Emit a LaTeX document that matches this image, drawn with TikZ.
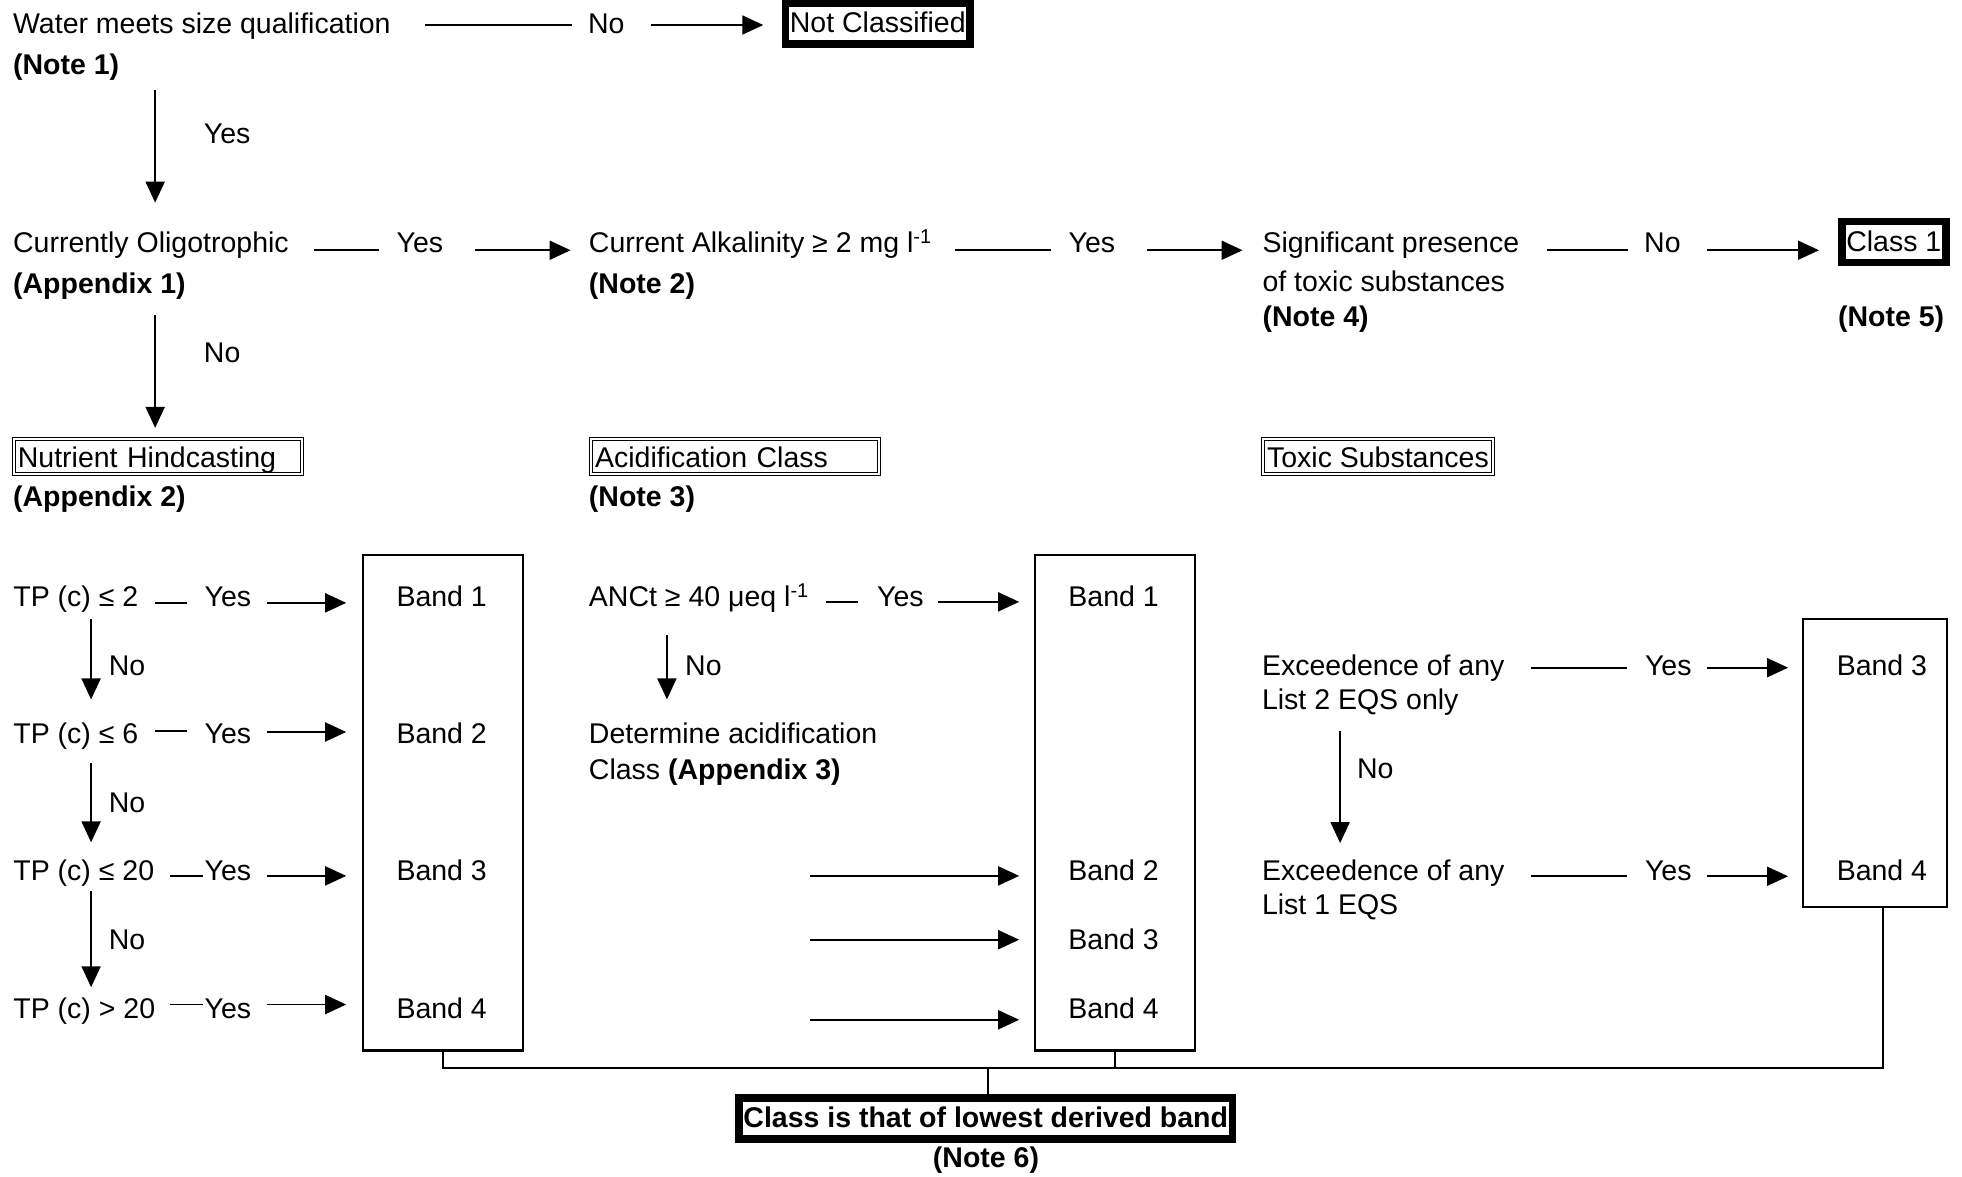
\documentclass[tikz,border=0pt]{standalone}
\usepackage{fontspec}
\setmainfont{Liberation Sans}
\usetikzlibrary{arrows.meta}
\begin{document}
\begin{tikzpicture}[x=1.2513pt, y=-1.2513pt,
  every node/.style={font=\fontsize{28.5}{34}\selectfont, inner sep=0pt, outer sep=0pt},
  txt/.style={anchor=base west},
  bold/.style={anchor=base west, font=\fontsize{28.5}{34}\selectfont\bfseries},
  conn/.style={line width=1.9pt},
  arr/.style={line width=1.9pt, -{Triangle[length=21pt, width=19pt]}},
  thickbox/.style={draw, line width=7.5pt, inner xsep=4.5pt, inner ysep=7pt, text height=22.8pt, text depth=4.3pt},
  dbox/.style={draw, double, double distance=1.5pt, line width=1pt, inner xsep=4pt, inner ysep=2pt, text height=26.2pt, text depth=5.1pt, anchor=west},
  bandbox/.style={draw, line width=2.2pt, minimum width=160pt, minimum height=495.5pt},
  bandlbl/.style={anchor=base},
]
\useasboundingbox (0,0) rectangle (1568,940);

% ---------- row 1
\node[txt] (water) at (10.5,26.5) {Water meets size qualification};
\node[bold] (note1) at (10.5,59.5) {(Note 1)};
\node[txt] (no1) at (470,26.5) {No};
\node[thickbox] (notcl) at (701.5,18.8) {Not Classified};
\coordinate (w1) at (340,20); \coordinate (w2) at (457,20);
\coordinate (w3) at (520,20); \coordinate (w4) at (610,20);
\draw[conn] (w1) -- (w2);
\draw[arr] (w3) -- (w4);

\coordinate (v1a) at (124,72); \coordinate (v1b) at (124,162);
\draw[arr] (v1a) -- (v1b);
\node[txt] (yes1) at (163,114.6) {Yes};

% ---------- row 2
\node[txt] (olig) at (10.5,202) {Currently Oligotrophic};
\node[bold] (app1) at (10.5,234.5) {(Appendix 1)};
\coordinate (o1) at (251,200); \coordinate (o2) at (303,200);
\coordinate (o3) at (380,200); \coordinate (o4) at (456,200);
\draw[conn] (o1) -- (o2);
\node[txt] (yes2) at (317,202) {Yes};
\draw[arr] (o3) -- (o4);

\node[txt] (alk) at (470.7,202) {Current Alkalinity ≥ 2 mg l\textsuperscript{-1}};
\node[bold] (note2) at (470.7,234.5) {(Note 2)};
\coordinate (a1) at (763,200); \coordinate (a2) at (840,200);
\coordinate (a3) at (917,200); \coordinate (a4) at (993,200);
\draw[conn] (a1) -- (a2);
\node[txt] (yes3) at (854,202) {Yes};
\draw[arr] (a3) -- (a4);

\node[txt] (sig1) at (1009,202) {Significant presence};
\node[txt] (sig2) at (1009,233) {of toxic substances};
\node[bold] (note4) at (1009,261) {(Note 4)};
\coordinate (s1) at (1236,200); \coordinate (s2) at (1301,200);
\coordinate (s3) at (1364,200); \coordinate (s4) at (1453.7,200);
\draw[conn] (s1) -- (s2);
\node[txt] (no2) at (1314,202) {No};
\draw[arr] (s3) -- (s4);
\node[thickbox] (class1) at (1513.5,193.5) {Class 1};
\node[bold] (note5) at (1469,261) {(Note 5)};

\coordinate (v2a) at (124,252); \coordinate (v2b) at (124,342);
\draw[arr] (v2a) -- (v2b);
\node[txt] (no3) at (163,290) {No};

% ---------- row 3 headers
\node[dbox, text width=280pt, align=left] (nutr) at (11.1,364.8) {Nutrient Hindcasting};
\node[bold] (app2) at (10.5,404.6) {(Appendix 2)};
\node[dbox, text width=280pt, align=left] (acid) at (472.4,364.8) {Acidification Class};
\node[bold] (note3) at (470.7,404.6) {(Note 3)};
\node[dbox] (toxic) at (1009.4,364.8) {Toxic Substances};

% ---------- band boxes
\node[bandbox] (bb1) at (354,641.6) {};
\node[bandbox] (bb2) at (891,641.6) {};
\node[bandbox, minimum width=144.5pt, minimum height=288pt] (bb3) at (1498.5,609.9) {};

\node[bandlbl] (b11) at (353,485) {Band 1};
\node[bandlbl] (b12) at (353,594.5) {Band 2};
\node[bandlbl] (b13) at (353,704) {Band 3};
\node[bandlbl] (b14) at (353,813.7) {Band 4};
\node[bandlbl] (b21) at (890,484.5) {Band 1};
\node[bandlbl] (b22) at (890,703.8) {Band 2};
\node[bandlbl] (b23) at (890,758.6) {Band 3};
\node[bandlbl] (b24) at (890,813.7) {Band 4};
\node[bandlbl] (b33) at (1504,539.5) {Band 3};
\node[bandlbl] (b34) at (1504,703.8) {Band 4};

% ---------- nutrient column
\node[txt] (tp1) at (10.7,485) {TP (c) ≤ 2};
\node[txt] (tp2) at (10.7,594) {TP (c) ≤ 6};
\node[txt] (tp3) at (10.7,704) {TP (c) ≤ 20};
\node[txt] (tp4) at (10.7,813.6) {TP (c) > 20};
\node[txt] (ty1) at (163.6,485) {Yes};
\node[txt] (ty2) at (163.6,594) {Yes};
\node[txt] (ty3) at (163.6,704) {Yes};
\node[txt] (ty4) at (163.6,813.6) {Yes};
\coordinate (t1a) at (123.6,481.8); \coordinate (t1b) at (149.8,481.8);
\coordinate (t2a) at (123.6,584.5); \coordinate (t2b) at (149.8,584.5);
\coordinate (t3a) at (136,700);     \coordinate (t3b) at (162,700);
\coordinate (t4a) at (136,802.8);   \coordinate (t4b) at (162,802.8);
\draw[conn] (t1a) -- (t1b);
\draw[conn] (t2a) -- (t2b);
\draw[conn] (t3a) -- (t3b);
\draw[conn] (t4a) -- (t4b);
\coordinate (t1c) at (213,481.8); \coordinate (t1d) at (276.7,481.8);
\coordinate (t2c) at (213,585);   \coordinate (t2d) at (276.7,585);
\coordinate (t3c) at (213,700);   \coordinate (t3d) at (276.7,700);
\coordinate (t4c) at (213,802.8); \coordinate (t4d) at (276.7,802.8);
\draw[arr] (t1c) -- (t1d);
\draw[arr] (t2c) -- (t2d);
\draw[arr] (t3c) -- (t3d);
\draw[arr] (t4c) -- (t4d);
\coordinate (n1a) at (72.8,494.8); \coordinate (n1b) at (72.8,559);
\coordinate (n2a) at (72.8,609.7); \coordinate (n2b) at (72.8,673.2);
\coordinate (n3a) at (72.8,712.4); \coordinate (n3b) at (72.8,789);
\draw[arr] (n1a) -- (n1b);
\draw[arr] (n2a) -- (n2b);
\draw[arr] (n3a) -- (n3b);
\node[txt] (tn1) at (87,539.5) {No};
\node[txt] (tn2) at (87,649.4) {No};
\node[txt] (tn3) at (87,759) {No};

% ---------- acidification column
\node[txt] (anc) at (470.7,484.5) {ANCt ≥ 40 μeq l\textsuperscript{-1}};
\coordinate (c1a) at (660.5,481); \coordinate (c1b) at (685.7,481);
\draw[conn] (c1a) -- (c1b);
\node[txt] (cy1) at (701,484.5) {Yes};
\coordinate (c1c) at (750,481); \coordinate (c1d) at (814.5,481);
\draw[arr] (c1c) -- (c1d);
\coordinate (cva) at (533,507.5); \coordinate (cvb) at (533,559);
\draw[arr] (cva) -- (cvb);
\node[txt] (cn1) at (547.6,539.5) {No};
\node[txt] (det1) at (470.7,594) {Determine acidification};
\node[txt] (det2) at (470.7,622.8) {Class \textbf{(Appendix 3)}};
\coordinate (d2a) at (647.4,700); \coordinate (d2b) at (814.5,700);
\coordinate (d3a) at (647.4,751); \coordinate (d3b) at (814.5,751);
\coordinate (d4a) at (647.4,815); \coordinate (d4b) at (814.5,815);
\draw[arr] (d2a) -- (d2b);
\draw[arr] (d3a) -- (d3b);
\draw[arr] (d4a) -- (d4b);

% ---------- toxic column
\node[txt] (ex2a) at (1008.6,539.5) {Exceedence of any};
\node[txt] (ex2b) at (1008.6,567) {List 2 EQS only};
\coordinate (e2a) at (1223.5,533.6); \coordinate (e2b) at (1300,533.6);
\draw[conn] (e2a) -- (e2b);
\node[txt] (ey2) at (1314.7,539.5) {Yes};
\coordinate (e2c) at (1364,533.6); \coordinate (e2d) at (1429,533.6);
\draw[arr] (e2c) -- (e2d);
\coordinate (eva) at (1071,584); \coordinate (evb) at (1071,673.8);
\draw[arr] (eva) -- (evb);
\node[txt] (en) at (1084.6,621.8) {No};
\node[txt] (ex1a) at (1008.6,703.8) {Exceedence of any};
\node[txt] (ex1b) at (1008.6,731) {List 1 EQS};
\coordinate (e1a) at (1223.5,700.3); \coordinate (e1b) at (1300,700.3);
\draw[conn] (e1a) -- (e1b);
\node[txt] (ey1) at (1314.7,703.8) {Yes};
\coordinate (e1c) at (1364,700.3); \coordinate (e1d) at (1429,700.3);
\draw[arr] (e1c) -- (e1d);

% ---------- bottom
\coordinate (j) at (789.3,853.6);
\draw[conn] (bb1.south) |- (j) -| ([xshift=8pt]bb3.south);
\draw[conn] (bb2.south) -- (bb2.south |- j);
\node[thickbox, font=\fontsize{28.5}{34}\selectfont\bfseries] (final) at (787.8,893.75) {Class is that of lowest derived band};
\draw[conn] (j) -- (j |- final.north);
\node[bold, anchor=base] (note6) at (788,933) {(Note 6)};
\end{tikzpicture}
\end{document}
